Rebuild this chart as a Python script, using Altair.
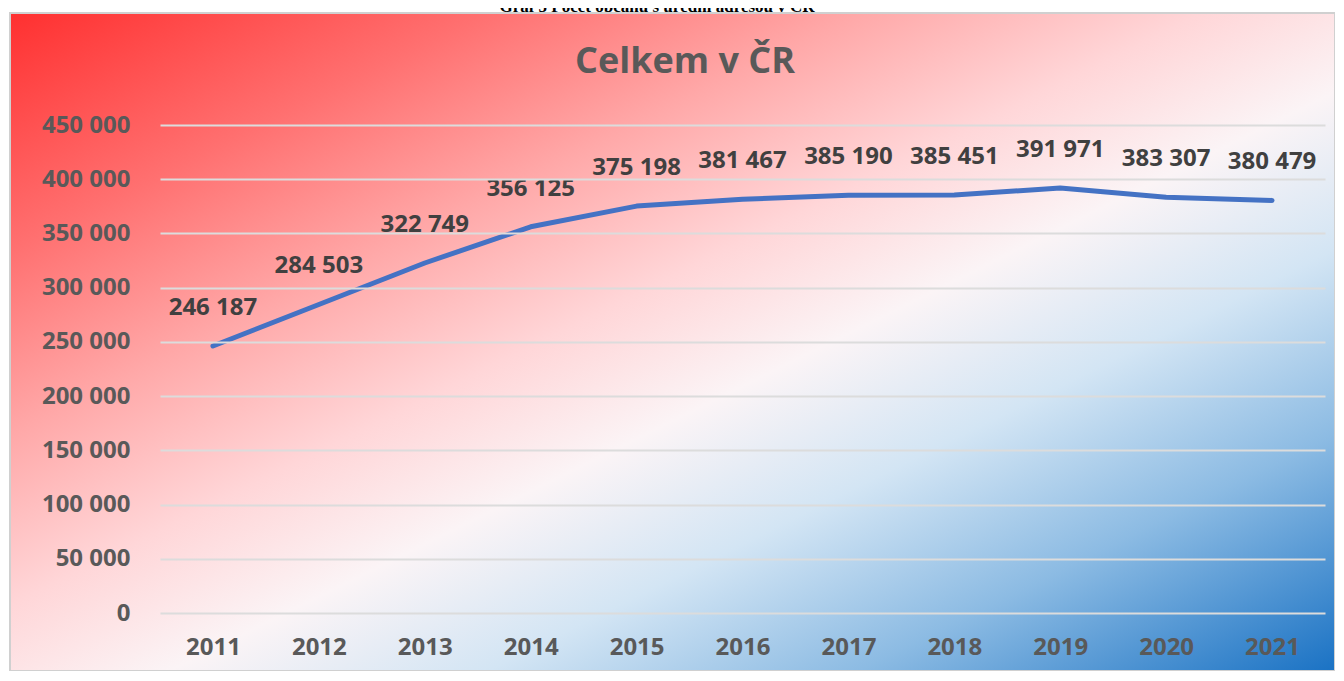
import altair as alt
import pandas as pd

years = ["2011", "2012", "2013", "2014", "2015", "2016", "2017", "2018", "2019", "2020", "2021"]
values = [246187, 284503, 322749, 356125, 375198, 381467, 385190, 385451, 391971, 383307, 380479]
y_ticks = [0, 50000, 100000, 150000, 200000, 250000, 300000, 350000, 400000, 450000]
chart_title = "Celkem v ČR"
page_title = "Graf 5 Počet občanů s úřední adresou v ČR"

df = pd.DataFrame({"year": years, "value": values})

W, H = 1165, 488
FONT = "Open Sans"

gradient = alt.Gradient(
    gradient="linear",
    x1=0, y1=0, x2=1, y2=1,
    stops=[
        alt.GradientStop(color="#ff3030", offset=0),
        alt.GradientStop(color="#ff7070", offset=0.18),
        alt.GradientStop(color="#ffa8a8", offset=0.32),
        alt.GradientStop(color="#ffd6d8", offset=0.45),
        alt.GradientStop(color="#fbf4f6", offset=0.56),
        alt.GradientStop(color="#d3e5f4", offset=0.68),
        alt.GradientStop(color="#8cbbe3", offset=0.82),
        alt.GradientStop(color="#1a72c4", offset=1),
    ],
)

one = pd.DataFrame({"a": [0]})

bg = alt.Chart(one).mark_rect(fill=gradient, stroke="#d0d0d0", strokeWidth=2).encode(
    x=alt.value(-150), x2=alt.value(1175), y=alt.value(-112), y2=alt.value(546)
)

top_text = alt.Chart(one).mark_text(
    text=page_title, font="Liberation Serif", fontSize=17, fontWeight="bold",
    color="#000000", baseline="alphabetic", align="center"
).encode(x=alt.value(497), y=alt.value(-113))

title_text = alt.Chart(one).mark_text(
    text=chart_title, font=FONT, fontSize=36, fontWeight="bold",
    color="#595959", baseline="middle", align="center"
).encode(x=alt.value(525), y=alt.value(-63))

base = alt.Chart(df).encode(
    x=alt.X("year:O", sort=years, scale=alt.Scale(padding=0.5),
            axis=alt.Axis(title=None, labelAngle=0, domain=False, ticks=False, grid=False,
                          labelFont=FONT, labelFontSize=24, labelFontWeight="bold",
                          labelColor="#595959", labelPadding=22, zindex=1)),
    y=alt.Y("value:Q", scale=alt.Scale(domain=[0, 450000], nice=False),
            axis=alt.Axis(title=None, values=y_ticks, domain=False, ticks=False,
                          gridColor="#dcdcdc", gridWidth=2, gridOpacity=1,
                          labelFont=FONT, labelFontSize=24, labelFontWeight="bold",
                          labelColor="#595959", labelPadding=30, zindex=1,
                          labelExpr="replace(format(datum.value, ','), ',', ' ')")),
)

line = base.mark_line(color="#4472c4", strokeWidth=5, strokeCap="round", strokeJoin="round")

labels = base.transform_calculate(
    lab="replace(format(datum.value, ','), ',', ' ')"
).mark_text(font=FONT, fontSize=24, fontWeight="bold", color="#404040",
            baseline="middle", dy=-38).encode(text="lab:N")

chart = alt.layer(bg, top_text, title_text, line, labels).properties(
    width=W, height=H,
    autosize=alt.AutoSizeParams(type="none"),
    padding={"left": 152, "top": 117, "right": 10, "bottom": 58},
).configure_view(stroke=None)

chart.save("out.html", embed_options={"renderer": "svg", "actions": False})
